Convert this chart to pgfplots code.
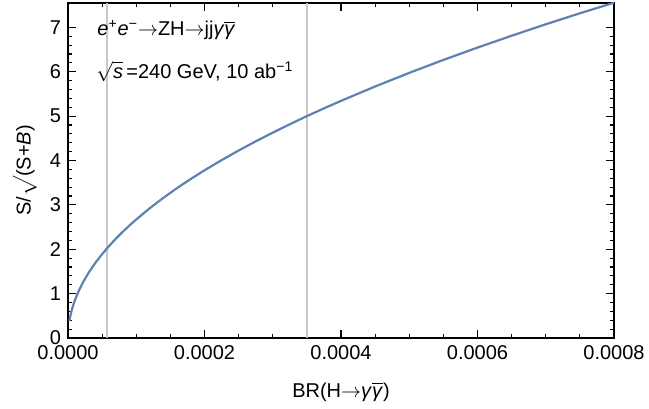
\documentclass[border=0pt]{standalone}
\usepackage{pgfplots}
\pgfplotsset{compat=1.18}
\usepackage{fontspec}
\setmainfont{Liberation Sans}
\definecolor{mblue}{RGB}{94,129,181}
\definecolor{lgray}{RGB}{200,200,200}
\newcommand{\arr}{${\rightarrow}$}
\begin{document}
\begin{tikzpicture}
\begin{axis}[
    scale only axis,
    width=273pt, height=167.5pt,
    xmin=0, xmax=0.0008,
    ymin=0, ymax=7.55,
    xtick={0,0.0002,0.0004,0.0006,0.0008},
    ytick={0,1,2,3,4,5,6,7},
    minor x tick num=3,
    minor y tick num=4,
    tick align=inside,
    major tick length=4pt,
    minor tick length=2.2pt,
    axis line style={line width=0.8pt},
    every tick/.style={black, line width=0.6pt},
    scaled x ticks=false,
    /pgf/number format/assume math mode=true,
    xticklabel style={/pgf/number format/.cd, fixed, fixed zerofill, precision=4},
    xlabel={BR(H\arr\textit{γ}$\overline{\hbox{\textit{γ}}}$)},
    ylabel={S/$\sqrt{\vphantom{(}}$(S+\textit{B})},
    x label style={at={(axis description cs:0.5,-0.161)}, anchor=center},
    y label style={at={(axis description cs:-0.08,0.5)}, anchor=center, inner sep=0pt},
]
\coordinate (sw) at (rel axis cs:0,0);
\coordinate (ne) at (rel axis cs:1,1);
\addplot[lgray, line width=0.75pt] coordinates {(0.000057,0) (0.000057,7.55)};
\addplot[lgray, line width=0.75pt] coordinates {(0.00035,0) (0.00035,7.55)};
\addplot[mblue, line width=1.1pt] coordinates {
(0.000002,0.378) (0.000003,0.463) (0.000004,0.534) (0.000005,0.598)
(0.000007,0.707) (0.00001,0.845) (0.000013,0.963) (0.000016,1.069)
(0.00002,1.195) (0.000025,1.336) (0.00003,1.464) (0.000035,1.581)
(0.00004,1.690) (0.000045,1.792) (0.00005,1.889) (0.000057,2.017)
(0.00006,2.070) (0.00007,2.236) (0.00008,2.390) (0.00009,2.535)
(0.0001,2.672) (0.00012,2.927) (0.00014,3.162) (0.00016,3.380)
(0.00018,3.585) (0.0002,3.779) (0.000225,4.008) (0.00025,4.225)
(0.000275,4.431) (0.0003,4.628) (0.000325,4.817) (0.00035,5.000)
(0.000375,5.175) (0.0004,5.344) (0.00045,5.668) (0.0005,5.975)
(0.00055,6.267) (0.0006,6.545) (0.00065,6.812) (0.0007,7.070)
(0.00075,7.318) (0.0008,7.556)};
\node[anchor=west, inner sep=0pt] at (axis cs:0.0000425,6.94)
  {\textit{e}\textsuperscript{+}\textit{e}\textsuperscript{−}\arr ZH\arr jj\textit{γ}$\overline{\hbox{\textit{γ}}}$};
\node[anchor=west, inner sep=0pt] at (axis cs:0.000041,6.0)
  {$\sqrt{\hbox{\textit{s}}}$\,=240 GeV, 10 ab\textsuperscript{−1}};
\end{axis}
\pgfresetboundingbox
\path[use as bounding box] ([shift={(-34pt,-35.5pt)}]sw) rectangle ([shift={(17.5pt,1.5pt)}]ne);
\end{tikzpicture}
\end{document}
